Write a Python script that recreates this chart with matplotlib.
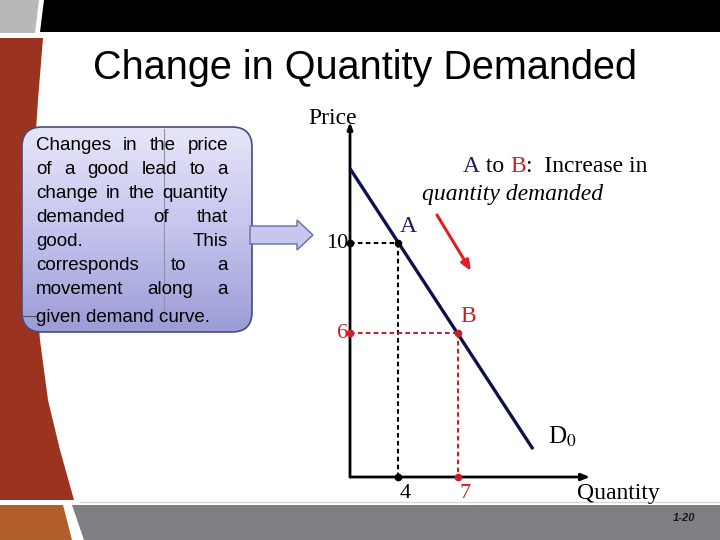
import numpy as np
import matplotlib
matplotlib.use("Agg")
import matplotlib.pyplot as plt
from matplotlib.patches import Polygon, FancyBboxPatch
from matplotlib.colors import LinearSegmentedColormap

# ---- content ----
title = "Change in Quantity Demanded"
box_lines = [
    "Changes in the price",
    "of a good lead to a",
    "change in the quantity",
    "demanded of that",
    "good. This",
    "corresponds to a",
    "movement along a",
    "given demand curve.",
]
point_names = ["A", "B"]
prices = [10, 6]
quantities = [4, 7]
point_colors = ["black", "#c8202a"]
label_colors = ["#1c1c5c", "#c8202a"]
demand_q = [1.6, 10.75]
demand_p = [13.33, 0.84]
demand_label = "D$_0$"
page_no = "1-20"

plt.rcParams["mathtext.fontset"] = "stix"
serif = "Liberation Serif"
sans = "Liberation Sans"

fig = plt.figure(figsize=(7.2, 5.4), dpi=100)
fig.patch.set_facecolor("white")

# background axes in pixel units (y down)
bg = fig.add_axes([0, 0, 1, 1])
bg.set_xlim(0, 720)
bg.set_ylim(540, 0)
bg.axis("off")

# slide decorations
bg.add_patch(Polygon([(0, 0), (39, 0), (35, 33), (0, 33)], color="#b8b8b8", lw=0))
bg.add_patch(Polygon([(44, 0), (720, 0), (720, 32), (40, 32)], color="black", lw=0))
edge = [(43, 38), (38, 100), (34, 160), (33, 220), (35, 280), (40, 340),
        (48, 400), (60, 450), (74, 500)]
bg.add_patch(Polygon([(0, 38)] + edge + [(0, 500)], color="#9a3420", lw=0))
bg.add_patch(Polygon([(0, 505), (63, 505), (72, 540), (0, 540)], color="#b25e2a", lw=0))
bg.add_patch(Polygon([(72, 505), (720, 505), (720, 540), (84, 540)], color="#7f7f84", lw=0))
bg.plot([80, 720], [502, 502], color="#d8d8d8", lw=1)
bg.text(695, 518, page_no, ha="right", va="center", fontsize=8,
        fontweight="bold", style="italic", family=sans, color="#1a1a1a")

# title
bg.text(365, 68, title, ha="center", va="center", fontsize=28.5, family=sans)

# text box with gradient
box = FancyBboxPatch((22, 127), 230, 205, boxstyle="round,pad=0,rounding_size=20",
                     facecolor="none", edgecolor="#4a4a78", lw=1.2, zorder=3)
bg.add_patch(box)
cmap = LinearSegmentedColormap.from_list("lav", ["#e6e6f9", "#c4c4ee", "#9c9cd6"])
grad = np.linspace(0, 1, 256).reshape(-1, 1)
im = bg.imshow(grad, cmap=cmap, extent=(22, 252, 332, 127), origin="upper",
               aspect="auto", zorder=2)
im.set_clip_path(box)
bg.plot([164, 164], [129, 316], color="#9090a8", lw=0.8, zorder=3)
bg.plot([20, 36], [316, 316], color="#505060", lw=0.8, zorder=3)

# block arrow
bg.add_patch(Polygon([(250, 226), (297, 226), (297, 220), (313, 235), (297, 250),
                      (297, 244), (250, 244)], facecolor="#c6c6ef",
                     edgecolor="#6a6aa8", lw=1, zorder=3))

fig.canvas.draw()
renderer = fig.canvas.get_renderer()


def justify(words, x0, x1, y, **kw):
    ts = [bg.text(0, y, w, va="baseline", zorder=4, **kw) for w in words]
    widths = [t.get_window_extent(renderer).width for t in ts]
    gap = (x1 - x0 - sum(widths)) / max(len(words) - 1, 1)
    x = x0
    for t, w in zip(ts, widths):
        t.set_x(x)
        x += w + gap


baselines = [150, 174, 198, 222, 246, 270, 294, 322]
for line, yb in zip(box_lines[:-1], baselines[:-1]):
    justify(line.split(), 36, 228, yb, fontsize=13.5, family=sans)
bg.text(36, baselines[-1], box_lines[-1], va="baseline", fontsize=13.5,
        family=sans, zorder=4)

# ---- chart ----
ax = fig.add_axes([350 / 720, 63 / 540, 240 / 720, 355 / 540])
ax.set_xlim(1.6, 13.6)
ax.set_ylim(-0.4, 15.4)
ax.patch.set_alpha(0)
ax.axis("off")

ax.annotate("", xy=(1.0, 0), xytext=(0, 0), xycoords="axes fraction",
            arrowprops=dict(arrowstyle="-|>,head_length=0.5,head_width=0.2",
                            color="black", lw=2, shrinkA=0, shrinkB=0))
ax.annotate("", xy=(0, 1.0), xytext=(0, 0), xycoords="axes fraction",
            arrowprops=dict(arrowstyle="-|>,head_length=0.4,head_width=0.15",
                            color="black", lw=2, shrinkA=0, shrinkB=0))

ax.plot(demand_q, demand_p, color="#10104a", lw=2.4, solid_capstyle="butt", zorder=3)

x0, y0 = ax.get_xlim()[0], ax.get_ylim()[0]
for name, p, q, c, lc in zip(point_names, prices, quantities, point_colors, label_colors):
    ax.plot([x0, q], [p, p], color=c, lw=1.5, ls=(0, (2.2, 1.6)), zorder=2)
    ax.plot([q, q], [p, y0], color=c, lw=1.5, ls=(0, (2.2, 1.6)), zorder=2)
    ax.plot([x0, q, q], [p, p, y0], "o", color=c, ms=4.5, zorder=4, clip_on=False)
    ax.annotate(str(p), (x0, p), xytext=(-1.5, 0), textcoords="offset points",
                ha="right", va="center", fontsize=16, family=serif, color=c)
    ax.annotate(str(q), (q, y0), xytext=(5, -5), textcoords="offset points",
                ha="center", va="top", fontsize=16, family=serif, color=c)
    ax.annotate(name, (q, p), xytext=(1.5, 4.5), textcoords="offset points",
                ha="left", va="bottom", fontsize=17, family=serif, color=lc)

ax.text(11.5, 1.4, demand_label, ha="left", va="center", fontsize=18, family=serif)

# axis titles
bg.text(333, 118, "Price", ha="center", va="center", fontsize=17, family=serif)
bg.text(618, 493, "Quantity", ha="center", va="center", fontsize=17, family=serif)

# explanation text
parts = [("A", label_colors[0]), (" to ", "black"), ("B", label_colors[1]),
         (":  Increase in", "black")]
x = 463
for s, c in parts:
    t = bg.text(x, 172, s, va="baseline", fontsize=17, family=serif, color=c)
    x += t.get_window_extent(renderer).width
bg.text(422, 200, "quantity demanded", va="baseline", fontsize=17, family=serif,
        style="italic")
bg.annotate("", xy=(471, 271), xytext=(437, 215),
            arrowprops=dict(arrowstyle="-|>,head_length=0.6,head_width=0.25",
                            color="#e02020", lw=2.2, shrinkA=0, shrinkB=0))

fig.savefig("out.png", dpi=100)
